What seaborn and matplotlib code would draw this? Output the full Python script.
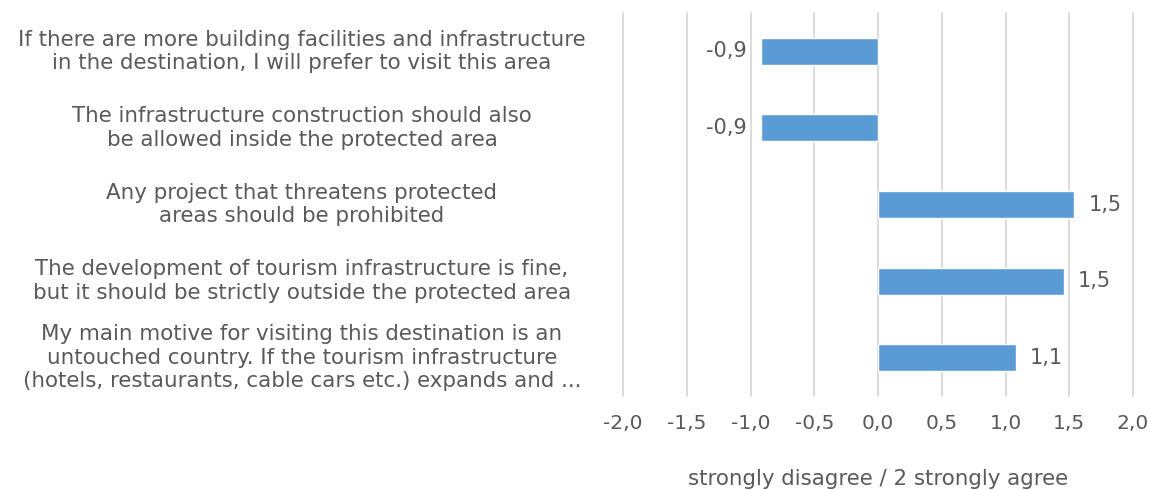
import matplotlib
matplotlib.use("Agg")
import matplotlib.pyplot as plt
import matplotlib.transforms as mtransforms
import pandas as pd
import seaborn as sns

statements = [
    "If there are more building facilities and infrastructure\nin the destination, I will prefer to visit this area",
    "The infrastructure construction should also\nbe allowed inside the protected area",
    "Any project that threatens protected\nareas should be prohibited",
    "The development of tourism infrastructure is fine,\nbut it should be strictly outside the protected area",
    "My main motive for visiting this destination is an\nuntouched country. If the tourism infrastructure\n(hotels, restaurants, cable cars etc.) expands and ...",
]
scores = [-0.92, -0.92, 1.54, 1.46, 1.08]
x_ticks = [-2.0, -1.5, -1.0, -0.5, 0.0, 0.5, 1.0, 1.5, 2.0]
x_title = "strongly disagree / 2 strongly agree"


def comma(v):
    return f"{v:.1f}".replace(".", ",")


sns.set_style("white")
plt.rcParams["font.family"] = ["DejaVu Sans"]
text_col = "#595959"
grid_col = "#d9d9d9"
fs = 15.4

df = pd.DataFrame({"statement": statements, "score": scores})

fig = plt.figure(figsize=(11.5, 4.9), dpi=100)
ax = fig.add_axes([623 / 1150, 1 - 396 / 490, 510 / 1150, 383 / 490])

sns.barplot(data=df, x="score", y="statement", order=statements,
            color="#5b9bd5", saturation=1, width=0.35, ax=ax, zorder=3)

ax.set_xlim(-2, 2)
ax.set_xticks(x_ticks)
ax.set_xticklabels([comma(t) for t in x_ticks], color=text_col, fontsize=14.5)
ax.grid(axis="x", color=grid_col, linewidth=1.3, zorder=0)
for gl in ax.get_xgridlines():
    gl.set_clip_on(False)
ax.tick_params(axis="x", length=7, color=grid_col, width=1.3, pad=6)
ax.tick_params(axis="y", length=0)
for s in ax.spines.values():
    s.set_visible(False)

ax.set_yticklabels([])
ax.set_ylabel("")
ax.set_xlabel(x_title, color=text_col, fontsize=fs, labelpad=26)

trans = mtransforms.blended_transform_factory(fig.transFigure, ax.transData)
for i, s in enumerate(statements):
    ax.text(302 / 1150, i, s, transform=trans, ha="center", va="center",
            multialignment="center", color=text_col, fontsize=fs,
            linespacing=1.22)

ax.bar_label(ax.containers[0], labels=[comma(v) for v in scores],
             padding=10, color=text_col, fontsize=15)

fig.savefig("out.png", dpi=100)
